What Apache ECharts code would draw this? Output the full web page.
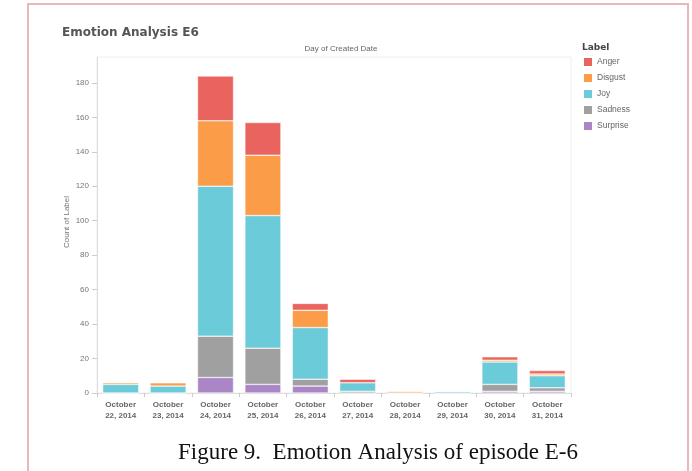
<!DOCTYPE html>
<html>
<head>
<meta charset="utf-8">
<script src="https://cdn.jsdelivr.net/npm/echarts@6/dist/echarts.min.js"></script>
<style>
  html, body { margin: 0; padding: 0; background: #fff; }
  #chartBox { width: 692px; height: 471px; }
</style>
</head>
<body>
<div id="chartBox"></div>
<script>
const days = ['October\n22, 2014', 'October\n23, 2014', 'October\n24, 2014', 'October\n25, 2014', 'October\n26, 2014',
  'October\n27, 2014', 'October\n28, 2014', 'October\n29, 2014', 'October\n30, 2014', 'October\n31, 2014']
const surprise = [0, 0, 9, 5, 4, 0, 0, 0, 1, 1]
const sadness = [0, 0, 24, 21, 4, 1, 0, 0, 4, 2]
const joy = [5, 4, 87, 77, 30, 5, 0, 1, 13, 7]
const disgust = [1, 2, 38, 35, 10, 0, 1, 0, 1, 1]
const anger = [0, 0, 26, 19, 4, 2, 0, 0, 2, 2]
const yTicks = [0, 20, 40, 60, 80, 100, 120, 140, 160, 180]

// stacked bottom-up, legend top-down
const layers = [
  { name: 'Surprise', data: surprise, color: '#ab86c7' },
  { name: 'Sadness', data: sadness, color: '#a0a0a0' },
  { name: 'Joy', data: joy, color: '#6ccbd9' },
  { name: 'Disgust', data: disgust, color: '#fb9c48' },
  { name: 'Anger', data: anger, color: '#ea645f' }
]

let myChart = echarts.init(document.getElementById('chartBox'))
myChart.setOption({
  animation: false,
  title: [
    {
      text: 'Emotion Analysis E6',
      left: 57,
      top: 22,
      textStyle: { fontFamily: 'DejaVu Sans', fontSize: 12, fontWeight: 'bold', color: '#555' }
    },
    {
      text: 'Day of Created Date',
      left: 336,
      top: 40,
      textAlign: 'center',
      textStyle: { fontFamily: 'Liberation Sans', fontSize: 8, fontWeight: 'normal', color: '#666' }
    },
    {
      text: 'Figure 9.  Emotion Analysis of episode E-6',
      left: 373,
      top: 436,
      textAlign: 'center',
      textStyle: { fontFamily: 'Liberation Serif', fontSize: 23, fontWeight: 'normal', color: '#111' }
    }
  ],
  graphic: [
    {
      type: 'rect',
      shape: { x: 28, y: 4, width: 660, height: 480 },
      style: { fill: 'none', stroke: '#e9b7b9', lineWidth: 2 },
      silent: true
    },
    {
      type: 'text',
      left: 582,
      top: 43,
      style: { text: 'Label', font: 'bold 9px "DejaVu Sans"', fill: '#444' }
    },
    {
      // y axis title
      type: 'text',
      x: 67,
      y: 222,
      rotation: Math.PI / 2,
      style: { text: 'Count of Label', font: '8px "Liberation Sans"', fill: '#777', align: 'center', verticalAlign: 'middle' }
    }
  ],
  legend: {
    orient: 'vertical',
    left: 582,
    top: 56,
    padding: 0,
    itemWidth: 10,
    itemHeight: 10,
    itemGap: 4,
    icon: 'rect',
    data: layers.slice().reverse().map(l => l.name),
    textStyle: { fontFamily: 'Liberation Sans', fontSize: 8.5, lineHeight: 10, color: '#666', padding: [0, 0, 0, -1] }
  },
  grid: {
    left: 97,
    right: 121,
    top: 57,
    bottom: 78,
    show: true,
    borderColor: '#eee',
    borderWidth: 1
  },
  xAxis: {
    type: 'category',
    data: days,
    axisLine: { show: true, lineStyle: { color: '#ddd' } },
    axisTick: { show: true, length: 4, lineStyle: { color: '#ccc' } },
    axisLabel: {
      fontFamily: 'Liberation Sans',
      fontSize: 8,
      fontWeight: 'bold',
      color: '#666',
      lineHeight: 11,
      margin: 6
    }
  },
  yAxis: {
    type: 'value',
    min: 0,
    max: 195,
    interval: 20,
    axisLine: { show: true, lineStyle: { color: '#ddd' } },
    axisTick: { show: true, length: 5, lineStyle: { color: '#ccc' } },
    splitLine: { show: false },
    axisLabel: {
      fontFamily: 'Liberation Sans',
      fontSize: 8,
      color: '#777',
      margin: 8,
      showMaxLabel: false,
      formatter: v => (yTicks.indexOf(v) >= 0 ? v : '')
    }
  },
  series: layers.map(l => ({
    name: l.name,
    type: 'bar',
    stack: 'all',
    barWidth: '76%',
    data: l.data,
    itemStyle: { color: l.color, borderColor: '#fff', borderWidth: 0.5 }
  }))
})
</script>
</body>
</html>
